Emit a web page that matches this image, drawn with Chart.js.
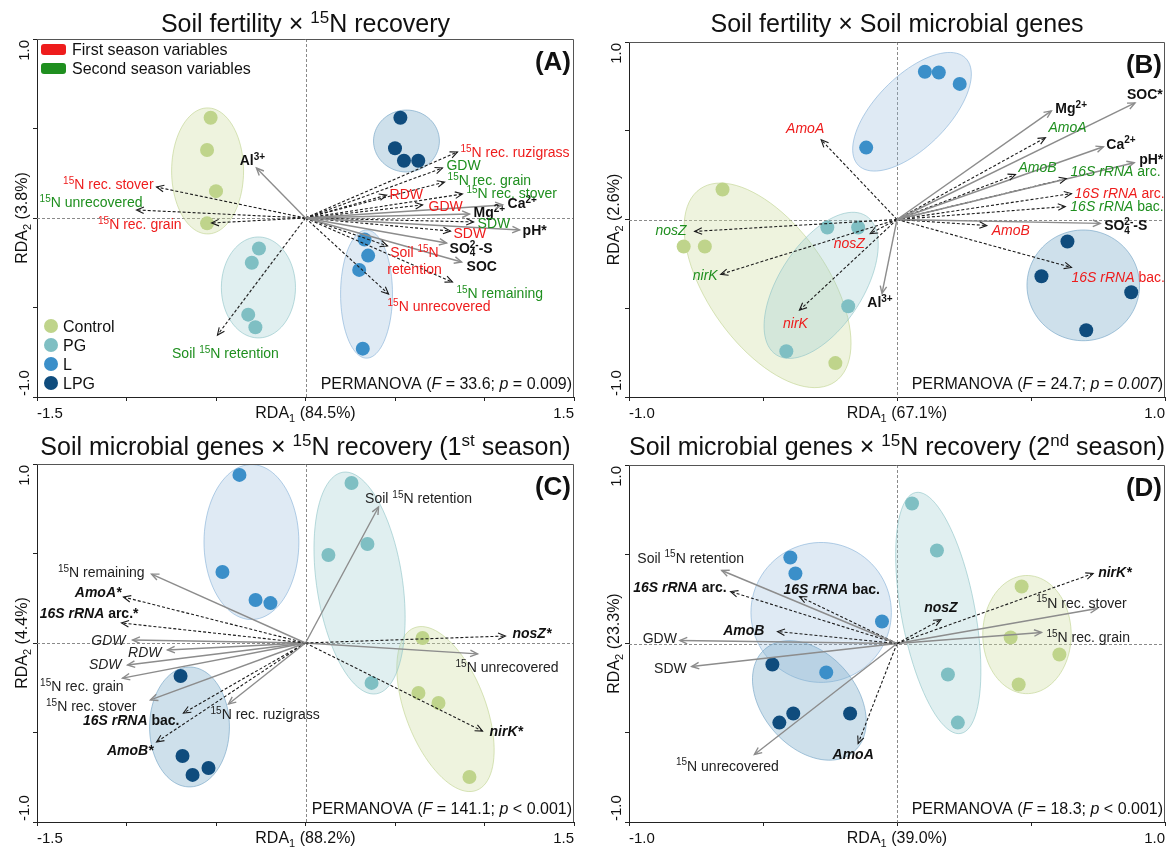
<!DOCTYPE html>
<html>
<head>
<meta charset="utf-8">
<title>RDA biplots</title>
<script src="https://cdn.jsdelivr.net/npm/chart.js@4.4.1/dist/chart.umd.min.js"></script>
<style>
  body { margin: 0; background: #fff; }
  #page { position: relative; width: 1166px; height: 847px; overflow: hidden; }
  #page canvas { position: absolute; }
</style>
</head>
<body>
<div id="page">
  <canvas id="chartA" width="583" height="423" style="left:0px;top:0px"></canvas>
  <canvas id="chartB" width="583" height="423" style="left:583px;top:0px"></canvas>
  <canvas id="chartC" width="583" height="424" style="left:0px;top:423px"></canvas>
  <canvas id="chartD" width="583" height="424" style="left:583px;top:423px"></canvas>
</div>
<script>
// treatments, 4 plots each (same order in every panel)
const groups = ['Control', 'PG', 'L', 'LPG'];
const siteGroup = [0, 0, 0, 0, 1, 1, 1, 1, 2, 2, 2, 2, 3, 3, 3, 3];

// ---- (A) Soil fertility x 15N recovery
const aSiteX = [-0.53, -0.55, -0.50, -0.55, -0.26, -0.30, -0.32, -0.28, 0.33, 0.35, 0.30, 0.32, 0.53, 0.50, 0.55, 0.63];
const aSiteY = [0.56, 0.38, 0.15, -0.03, -0.17, -0.25, -0.54, -0.61, -0.12, -0.21, -0.29, -0.73, 0.56, 0.39, 0.32, 0.32];
const aEllCenter = [[-0.547, 0.263], [-0.263, -0.388], [0.341, -0.425], [0.564, 0.430]];
const aEllU = [[0.201, 0], [0.207, 0], [0.145, 0], [0.184, 0]];
const aEllV = [[0, 0.352], [0, 0.282], [0, 0.358], [0, 0.173]];
const aVecLabel = ['Al^{3+}', 'Mg^{2+}', 'Ca^{2+}', 'pH*', 'SO_{4}^{2-}-S', 'SOC',
  '^{15}N rec. ruzigrass', 'GDW', '^{15}N rec. grain', '^{15}N rec. stover', 'RDW', 'GDW', 'SDW', 'SDW',
  'Soil ^{15}N\nretention', '^{15}N remaining', '^{15}N unrecovered', '^{15}N rec. stover',
  '^{15}N unrecovered', '^{15}N rec. grain', 'Soil ^{15}N retention'];
const aVecX = [-0.274, 0.916, 1.101, 1.196, 0.788, 0.872, 0.849, 0.765, 0.777, 0.877, 0.453, 0.654, 0.939, 0.810,
  0.458, 0.821, 0.464, -0.832, -0.944, -0.525, -0.492];
const aVecY = [0.279, 0.022, 0.073, -0.067, -0.140, -0.246, 0.369, 0.279, 0.201, 0.134, 0.128, 0.073, -0.022, -0.073,
  -0.156, -0.358, -0.425, 0.173, 0.045, -0.028, -0.654];
const aVecStyle = ['soil', 'soil', 'soil', 'soil', 'soil', 'soil', 'red', 'green', 'green', 'green', 'red', 'red', 'green', 'red',
  'red', 'green', 'red', 'red', 'green', 'red', 'green'];
const aLabelPos = [[-4, -8, 'c'], [4, -2, 'l'], [5, -2, 'l'], [3, 0, 'l'], [3, 5, 'l'], [5, 4, 'l'], [3, 0, 'l'], [4, -3, 'l'],
  [3, -2, 'l'], [4, -1, 'l'], [3, -1, 'l'], [6, 1, 'l'], [4, 1, 'l'], [3, 2, 'l'], [27, 6, 'c'], [4, 11, 'l'], [-1, 12, 'l'],
  [-3, -3, 'r'], [6, -8, 'r'], [-30, 1, 'r'], [8, 18, 'c']];

// ---- (B) Soil fertility x Soil microbial genes
const bSiteX = [-0.651, -0.796, -0.717, -0.230, -0.260, -0.145, -0.182, -0.413, 0.104, 0.156, 0.234, -0.115, 0.636, 0.539, 0.874, 0.706];
const bSiteY = [0.169, -0.152, -0.152, -0.809, -0.045, -0.045, -0.489, -0.742, 0.832, 0.828, 0.764, 0.405, -0.124, -0.320, -0.410, -0.624];
const bEllCenter = [[-0.483, -0.371], [-0.283, -0.371], [0.056, 0.607], [0.695, -0.371]];
const bEllU = [[0.252, -0.543], [0.168, 0.391], [0.200, 0.302], [0.210, 0]];
const bEllV = [[-0.183, -0.193], [0.131, -0.129], [0.095, -0.143], [0, 0.312]];
const bVecLabel = ['Mg^{2+}', 'SOC*', 'Ca^{2+}', 'pH*', 'SO_{4}^{2-}-S', 'Al^{3+}',
  '~{AmoA}', '~{AmoA}', '~{AmoB}', '~{16S rRNA} arc.', '~{16S rRNA} arc.', '~{16S rRNA} bac.', '~{AmoB}',
  '~{16S rRNA} bac.', '~{nosZ}', '~{nosZ}', '~{nirK}', '~{nirK}'];
const bVecX = [0.576, 0.888, 0.770, 0.885, 0.758, -0.056, -0.283, 0.554, 0.442, 0.632, 0.651, 0.628, 0.335, 0.651,
  -0.755, -0.100, -0.658, -0.364];
const bVecY = [0.612, 0.657, 0.410, 0.320, -0.022, -0.416, 0.449, 0.461, 0.253, 0.230, 0.146, 0.073, -0.034, -0.270,
  -0.067, -0.079, -0.309, -0.511];
const bVecStyle = ['soil', 'soil', 'soil', 'soil', 'soil', 'soil', 'red', 'green', 'green', 'green', 'red', 'green', 'red',
  'red', 'green', 'red', 'green', 'red'];
const bLabelPos = [[4, -3, 'l'], [-8, -9, 'l'], [3, -3, 'l'], [5, -4, 'l'], [4, 2, 'l'], [-2, 9, 'c'], [-16, -12, 'c'],
  [3, -11, 'l'], [3, -8, 'l'], [4, -8, 'l'], [3, -1, 'l'], [5, -1, 'l'], [5, 4, 'l'], [0, 10, 'l'], [-8, -1, 'r'],
  [-21, 9, 'c'], [-3, 1, 'r'], [-4, 13, 'c']];

// ---- (C) Soil microbial genes x 15N recovery, 1st season
const cSiteX = [0.654, 0.631, 0.743, 0.916, 0.257, 0.128, 0.346, 0.369, -0.369, -0.464, -0.279, -0.196, -0.698, -0.687, -0.631, -0.542];
const cSiteY = [0.028, -0.279, -0.335, -0.749, 0.894, 0.492, 0.553, -0.223, 0.939, 0.397, 0.240, 0.223, -0.184, -0.631, -0.737, -0.698];
const cEllCenter = [[0.782, -0.369], [0.302, 0.335], [-0.302, 0.564], [-0.648, -0.469]];
const cEllU = [[0.174, -0.454], [0.093, -0.619], [0.265, 0], [0.223, 0]];
const cEllV = [[0.209, 0.080], [0.237, 0.036], [0, 0.433], [0, 0.335]];
const cVecLabel = ['^{15}N remaining', '~{AmoA*}', '~{16S rRNA} arc.*', '~{GDW}', '~{RDW}', '~{SDW}', '^{15}N rec. grain',
  '^{15}N rec. stover', '^{15}N rec. ruzigrass', '~{16S rRNA} bac.', '~{AmoB*}', 'Soil ^{15}N retention', '~{nosZ*}',
  '^{15}N unrecovered', '~{nirK*}'];
const cVecX = [-0.860, -1.017, -1.028, -0.966, -0.771, -0.994, -1.022, -0.866, -0.430, -0.682, -0.832, 0.408, 1.117, 0.961, 0.989];
const cVecY = [0.385, 0.257, 0.112, 0.017, -0.039, -0.123, -0.196, -0.318, -0.341, -0.391, -0.553, 0.760, 0.039, -0.061, -0.492];
const cVecStyle = ['plain', 'gene', 'gene', 'plain', 'plain', 'plain', 'plain', 'plain', 'plain', 'gene', 'gene', 'plain', 'gene',
  'plain', 'gene'];
const cLabelPos = [[-7, -2, 'r'], [-2, -5, 'r'], [17, -10, 'r'], [-7, 0, 'r'], [-6, 2, 'r'], [-6, -1, 'r'], [1, 8, 'r'],
  [-14, 6, 'r'], [-18, 10, 'l'], [-4, 7, 'r'], [-3, 8, 'r'], [40, -9, 'c'], [7, -3, 'l'], [-22, 13, 'l'], [7, 0, 'l']];

// ---- (D) Soil microbial genes x 15N recovery, 2nd season
const dSiteX = [0.465, 0.424, 0.606, 0.454, 0.056, 0.149, 0.190, 0.227, -0.398, -0.379, -0.056, -0.264, -0.465, -0.439, -0.387, -0.175];
const dSiteY = [0.319, 0.034, -0.062, -0.230, 0.784, 0.521, -0.174, -0.443, 0.482, 0.392, 0.123, -0.162, -0.118, -0.443, -0.392, -0.392];
const dEllCenter = [[0.485, 0.050], [0.154, 0.171], [-0.283, 0.174], [-0.327, -0.319]];
const dEllU = [[0.165, 0], [0.084, -0.675], [0.262, 0], [0.167, -0.286]];
const dEllV = [[0, 0.331], [0.135, 0.038], [0, 0.392], [0.131, 0.174]];
const dVecLabel = ['Soil ^{15}N retention', '~{16S rRNA} arc.', '~{16S rRNA} bac.', '~{AmoB}', 'GDW', 'SDW', '^{15}N unrecovered',
  '~{AmoA}', '~{nosZ}', '~{nirK*}', '^{15}N rec. stover', '^{15}N rec. grain'];
const dVecX = [-0.654, -0.621, -0.364, -0.446, -0.810, -0.766, -0.532, -0.145, 0.164, 0.732, 0.747, 0.539];
const dVecY = [0.409, 0.291, 0.263, 0.067, 0.017, -0.129, -0.622, -0.560, 0.134, 0.392, 0.196, 0.062];
const dVecStyle = ['plain', 'gene', 'gene', 'gene', 'plain', 'plain', 'plain', 'gene', 'gene', 'gene', 'plain', 'plain'];
const dLabelPos = [[-31, -13, 'c'], [-4, -5, 'r'], [-16, -8, 'l'], [-13, -2, 'r'], [-3, -3, 'r'], [-5, 1, 'r'], [-27, 11, 'c'],
  [-5, 10, 'c'], [0, -13, 'c'], [5, -2, 'l'], [-61, -6, 'l'], [5, 5, 'l']];

const FONT = '"Liberation Sans", Arial, Helvetica, sans-serif';
const groupColors = ['#bfd48b', '#7fbfc3', '#3b8fc9', '#0f4c7d'];
const ellipseFill = ['rgba(205,222,160,0.35)', 'rgba(160,205,208,0.32)', 'rgba(150,185,220,0.30)', 'rgba(120,170,200,0.36)'];
const ellipseEdge = ['rgba(190,210,140,0.6)', 'rgba(140,195,198,0.6)', 'rgba(130,175,215,0.6)', 'rgba(110,160,195,0.6)'];
const RED = '#ee1c1c', GREEN = '#1f8f1f';
const vecStyles = {
  soil:  { line: '#8c8c8c', width: 1.4, dash: [], text: '#111', bold: true },
  plain: { line: '#8c8c8c', width: 1.4, dash: [], text: '#222', bold: false },
  red:   { line: '#1a1a1a', width: 1.1, dash: [3, 2], text: RED, bold: false },
  green: { line: '#1a1a1a', width: 1.1, dash: [3, 2], text: GREEN, bold: false },
  gene:  { line: '#1a1a1a', width: 1.1, dash: [3, 2], text: '#111', bold: true }
};

function fontStr(size, bold, italic) {
  return (italic ? 'italic ' : '') + (bold ? 'bold ' : '') + size + 'px ' + FONT;
}

// tiny markup: ^{sup} _{sub} ~{italic}
function parseRich(s) {
  const segs = [];
  let buf = '', i = 0;
  while (i < s.length) {
    const c = s[i];
    if ((c === '^' || c === '_' || c === '~') && s[i + 1] === '{') {
      if (buf) { segs.push({ t: buf, m: '' }); buf = ''; }
      const j = s.indexOf('}', i);
      segs.push({ t: s.slice(i + 2, j), m: c });
      i = j + 1;
    } else { buf += c; i++; }
  }
  if (buf) segs.push({ t: buf, m: '' });
  return segs;
}

function layoutRich(ctx, s, o) {
  const items = [];
  let w = 0, prevSub = null;
  parseRich(s).forEach(g => {
    const small = g.m === '^' || g.m === '_';
    const font = fontStr(small ? Math.round(o.size * 0.68) : o.size, o.bold, o.italic || g.m === '~');
    ctx.font = font;
    const gw = ctx.measureText(g.t).width;
    let x0 = w;
    if (g.m === '^' && prevSub) {
      x0 = prevSub.x;   // stack sup over sub
      w = Math.max(prevSub.x + prevSub.w, x0 + gw);
    } else w += gw;
    const it = { t: g.t, x: x0, w: gw, font, dy: g.m === '^' ? -o.size * 0.38 : g.m === '_' ? o.size * 0.22 : 0 };
    items.push(it);
    prevSub = g.m === '_' ? it : null;
  });
  return { items, w };
}

// base = baseline of first line
function drawRich(ctx, s, x, base, o) {
  ctx.save();
  ctx.fillStyle = o.color || '#111';
  ctx.textAlign = 'left';
  ctx.textBaseline = 'alphabetic';
  s.split('\n').forEach((line, li) => {
    const lay = layoutRich(ctx, line, o);
    let x0 = x;
    if (o.align === 'c') x0 = x - lay.w / 2;
    else if (o.align === 'r') x0 = x - lay.w;
    lay.items.forEach(it => {
      ctx.font = it.font;
      ctx.fillText(it.t, x0 + it.x, base + li * o.size * 1.25 + it.dy);
    });
  });
  ctx.restore();
}

function arrowHead(ctx, x0, y0, x1, y1, len) {
  const a = Math.atan2(y1 - y0, x1 - x0);
  ctx.beginPath();
  ctx.moveTo(x1 - len * Math.cos(a - 0.42), y1 - len * Math.sin(a - 0.42));
  ctx.lineTo(x1, y1);
  ctx.lineTo(x1 - len * Math.cos(a + 0.42), y1 - len * Math.sin(a + 0.42));
  ctx.stroke();
}

function makePlugin(p) {
  return {
    id: 'rda' + p.letter,
    beforeDatasetsDraw(chart) {
      const { ctx, chartArea: a, scales: { x, y } } = chart;
      ctx.save();
      // dotted zero lines
      const zx = Math.round(x.getPixelForValue(0)) + 0.5, zy = Math.round(y.getPixelForValue(0)) + 0.5;
      ctx.strokeStyle = '#8a8a8a';
      ctx.lineWidth = 1;
      ctx.setLineDash([3, 2]);
      ctx.beginPath();
      ctx.moveTo(zx, a.top); ctx.lineTo(zx, a.bottom);
      ctx.moveTo(a.left, zy); ctx.lineTo(a.right, zy);
      ctx.stroke();
      ctx.setLineDash([]);
      // group ellipses, drawn from centre + two conjugate half-axes in data units
      p.ellCenter.forEach((c, i) => {
        const cx = x.getPixelForValue(c[0]), cy = y.getPixelForValue(c[1]);
        const ux = x.getPixelForValue(c[0] + p.ellU[i][0]) - cx, uy = y.getPixelForValue(c[1] + p.ellU[i][1]) - cy;
        const vx = x.getPixelForValue(c[0] + p.ellV[i][0]) - cx, vy = y.getPixelForValue(c[1] + p.ellV[i][1]) - cy;
        ctx.beginPath();
        for (let k = 0; k <= 90; k++) {
          const t = k / 90 * Math.PI * 2;
          const px = cx + Math.cos(t) * ux + Math.sin(t) * vx;
          const py = cy + Math.cos(t) * uy + Math.sin(t) * vy;
          if (k) ctx.lineTo(px, py); else ctx.moveTo(px, py);
        }
        ctx.closePath();
        ctx.fillStyle = ellipseFill[i];
        ctx.strokeStyle = ellipseEdge[i];
        ctx.lineWidth = 1;
        ctx.fill();
        ctx.stroke();
      });
      ctx.restore();
    },
    afterDatasetsDraw(chart) {
      const ctx = chart.ctx;
      ctx.save();
      p.vecLabel.forEach((lab, i) => {
        const st = vecStyles[p.vecStyle[i]];
        const meta = chart.getDatasetMeta(groups.length + i);
        const o = meta.data[0], t = meta.data[1];
        ctx.strokeStyle = st.line;
        ctx.lineWidth = st.width;
        ctx.setLineDash([]);
        arrowHead(ctx, o.x, o.y, t.x, t.y, 8);
        const [dx, dy, al] = p.labelPos[i];
        drawRich(ctx, lab, t.x + dx, t.y + dy + 14 * 0.36, { size: 14, bold: st.bold, color: st.text, align: al });
      });
      ctx.restore();
    },
    afterDraw(chart) {
      const { ctx, chartArea: a, scales: { x, y } } = chart;
      ctx.save();
      // rest of the box
      ctx.strokeStyle = '#555';
      ctx.lineWidth = 1;
      ctx.beginPath();
      ctx.moveTo(a.left, a.top + 0.5); ctx.lineTo(a.right - 0.5, a.top + 0.5); ctx.lineTo(a.right - 0.5, a.bottom);
      ctx.stroke();
      const cxm = (a.left + a.right) / 2, cym = (a.top + a.bottom) / 2;
      drawRich(ctx, p.title, cxm, 32, { size: 25, color: '#111', align: 'c' });
      drawRich(ctx, p.letter, a.right - 3, a.top + 31, { size: 26, bold: true, color: '#111', align: 'r' });
      // axis end labels and titles
      drawRich(ctx, p.xEnds[0], x.getPixelForValue(x.min), a.bottom + 21, { size: 15, color: '#111', align: 'l' });
      drawRich(ctx, p.xEnds[1], x.getPixelForValue(x.max), a.bottom + 21, { size: 15, color: '#111', align: 'r' });
      drawRich(ctx, 'RDA_{1} (' + p.xPct + ')', cxm, a.bottom + 21, { size: 16, color: '#111', align: 'c' });
      const rot = (px, py, s, al, size) => {
        ctx.save();
        ctx.translate(px, py);
        ctx.rotate(-Math.PI / 2);
        drawRich(ctx, s, 0, 0, { size, color: '#111', align: al });
        ctx.restore();
      };
      rot(a.left - 8, y.getPixelForValue(y.max) + 1, p.yEnds[1], 'r', 15);
      rot(a.left - 8, y.getPixelForValue(y.min) - 1, p.yEnds[0], 'l', 15);
      rot(a.left - 10, cym, 'RDA_{2} (' + p.yPct + ')', 'c', 16);
      drawRich(ctx, p.stat, a.right - 2, a.bottom - 8, { size: 16, color: '#111', align: 'r' });
      if (p.legend) {
        // season colour key
        [['First season variables', RED], ['Second season variables', GREEN]].forEach(([txt, col], k) => {
          const ty = a.top + 5 + k * 19;
          ctx.fillStyle = col;
          ctx.beginPath();
          ctx.roundRect(a.left + 4, ty, 25, 11, 3);
          ctx.fill();
          drawRich(ctx, txt, a.left + 35, ty + 11, { size: 16, color: '#111', align: 'l' });
        });
        // treatment key
        groups.forEach((g, k) => {
          const ly = a.bottom - 71 + k * 19;
          ctx.fillStyle = groupColors[k];
          ctx.beginPath();
          ctx.arc(a.left + 14, ly, 7, 0, Math.PI * 2);
          ctx.fill();
          drawRich(ctx, g, a.left + 26, ly + 6, { size: 16, color: '#111', align: 'l' });
        });
      }
      ctx.restore();
    }
  };
}

const panels = [
  { canvas: 'chartA', letter: '(A)', title: 'Soil fertility × ^{15}N recovery', xr: 1.5, xEnds: ['-1.5', '1.5'], yEnds: ['-1.0', '1.0'],
    xPct: '84.5%', yPct: '3.8%', stat: 'PERMANOVA (~{F} = 33.6; ~{p} = 0.009)', legend: true,
    siteX: aSiteX, siteY: aSiteY, ellCenter: aEllCenter, ellU: aEllU, ellV: aEllV,
    vecLabel: aVecLabel, vecX: aVecX, vecY: aVecY, vecStyle: aVecStyle, labelPos: aLabelPos,
    box: { left: 37, top: 39, right: 9, bottom: 26 } },
  { canvas: 'chartB', letter: '(B)', title: 'Soil fertility × Soil microbial genes', xr: 1, xEnds: ['-1.0', '1.0'], yEnds: ['-1.0', '1.0'],
    xPct: '67.1%', yPct: '2.6%', stat: 'PERMANOVA (~{F} = 24.7; ~{p = 0.007})', legend: false,
    siteX: bSiteX, siteY: bSiteY, ellCenter: bEllCenter, ellU: bEllU, ellV: bEllV,
    vecLabel: bVecLabel, vecX: bVecX, vecY: bVecY, vecStyle: bVecStyle, labelPos: bLabelPos,
    box: { left: 46, top: 42, right: 1, bottom: 26 } },
  { canvas: 'chartC', letter: '(C)', title: 'Soil microbial genes × ^{15}N recovery (1^{st} season)', xr: 1.5, xEnds: ['-1.5', '1.5'], yEnds: ['-1.0', '1.0'],
    xPct: '88.2%', yPct: '4.4%', stat: 'PERMANOVA (~{F} = 141.1; ~{p} < 0.001)', legend: false,
    siteX: cSiteX, siteY: cSiteY, ellCenter: cEllCenter, ellU: cEllU, ellV: cEllV,
    vecLabel: cVecLabel, vecX: cVecX, vecY: cVecY, vecStyle: cVecStyle, labelPos: cLabelPos,
    box: { left: 37, top: 41, right: 9, bottom: 25 } },
  { canvas: 'chartD', letter: '(D)', title: 'Soil microbial genes × ^{15}N recovery (2^{nd} season)', xr: 1, xEnds: ['-1.0', '1.0'], yEnds: ['-1.0', '1.0'],
    xPct: '39.0%', yPct: '23.3%', stat: 'PERMANOVA (~{F} = 18.3; ~{p} < 0.001)', legend: false,
    siteX: dSiteX, siteY: dSiteY, ellCenter: dEllCenter, ellU: dEllU, ellV: dEllV,
    vecLabel: dVecLabel, vecX: dVecX, vecY: dVecY, vecStyle: dVecStyle, labelPos: dLabelPos,
    box: { left: 46, top: 42, right: 1, bottom: 25 } }
];

function buildChart(p) {
  const datasets = groups.map((g, gi) => ({
    label: g,
    data: p.siteX.map((v, i) => ({ x: v, y: p.siteY[i] })).filter((_, i) => siteGroup[i] === gi),
    backgroundColor: groupColors[gi],
    borderWidth: 0,
    pointRadius: 7,
    pointHoverRadius: 7,
    order: 2
  }));
  p.vecX.forEach((vx, i) => {
    const st = vecStyles[p.vecStyle[i]];
    datasets.push({
      label: p.vecLabel[i],
      data: [{ x: 0, y: 0 }, { x: vx, y: p.vecY[i] }],
      showLine: true,
      borderColor: st.line,
      borderWidth: st.width,
      borderDash: st.dash,
      pointRadius: 0,
      pointHoverRadius: 0,
      order: 1
    });
  });

  const axis = (min, max, fit) => ({
    type: 'linear',
    min: min,
    max: max,
    ticks: { stepSize: 0.5, display: false },
    grid: { drawOnChartArea: false, drawTicks: true, tickLength: 4, color: '#222' },
    border: { display: true, color: '#222', width: 1 },
    afterFit: fit
  });

  new Chart(document.getElementById(p.canvas), {
    type: 'scatter',
    data: { datasets },
    plugins: [makePlugin(p)],
    options: {
      responsive: false,
      animation: false,
      events: [],
      layout: { autoPadding: false, padding: { left: 0, top: p.box.top, right: p.box.right, bottom: 0 } },
      plugins: { legend: { display: false }, tooltip: { enabled: false }, title: { display: false } },
      scales: {
        x: axis(-p.xr, p.xr, s => { s.height = p.box.bottom; }),
        y: axis(-1, 1, s => { s.width = p.box.left; })
      }
    }
  });
}

panels.forEach(buildChart);
</script>
</body>
</html>
